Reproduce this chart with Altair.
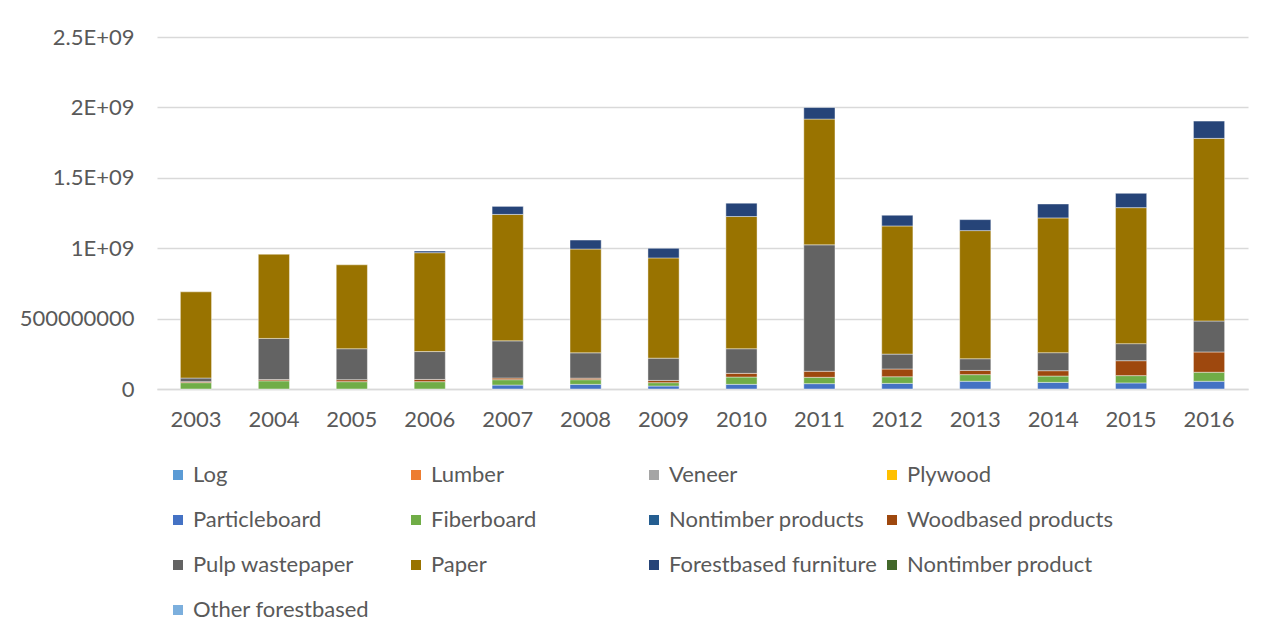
import altair as alt
import pandas as pd

years = ["2003", "2004", "2005", "2006", "2007", "2008", "2009",
         "2010", "2011", "2012", "2013", "2014", "2015", "2016"]

series = ["Log", "Lumber", "Veneer", "Plywood", "Particleboard", "Fiberboard",
          "Nontimber products", "Woodbased products", "Pulp wastepaper", "Paper",
          "Forestbased furniture", "Nontimber product", "Other forestbased"]

colors = ["#5B9BD5", "#ED7D31", "#A5A5A5", "#FFC000", "#4472C4", "#70AD47",
          "#255E91", "#9E480E", "#636363", "#997300", "#264478", "#43682B",
          "#7CAFDD"]

# values in millions
log_v = [0] * 14
lumber_v = [0] * 14
veneer_v = [0] * 14
plywood_v = [0] * 14
particleboard_v = [0, 0, 0, 0, 28, 33, 21, 33, 38, 40, 55, 47, 43, 55]
fiberboard_v = [45, 58, 52, 52, 38, 33, 24, 52, 45, 47, 47, 45, 52, 64]
nontimber_products_v = [0] * 14
woodbased_v = [7, 9, 14, 16, 12, 11, 16, 26, 43, 55, 30, 38, 106, 144]
pulp_v = [26, 292, 220, 198, 264, 180, 158, 175, 898, 106, 83, 128, 121, 220]
paper_v = [612, 598, 596, 702, 898, 737, 712, 939, 893, 910, 910, 957, 966, 1297]
furniture_v = [0, 0, 0, 12, 57, 64, 68, 95, 82, 76, 78, 99, 102, 123]
nontimber_product_v = [0] * 14
other_v = [0] * 14

all_values = [log_v, lumber_v, veneer_v, plywood_v, particleboard_v, fiberboard_v,
              nontimber_products_v, woodbased_v, pulp_v, paper_v, furniture_v,
              nontimber_product_v, other_v]

rows = []
for si, (name, vals) in enumerate(zip(series, all_values)):
    for y, v in zip(years, vals):
        rows.append({"year": y, "series": name, "order": si, "value": v * 1e6})
df = pd.DataFrame(rows)

FONT = "Lato"
TXT = "#595959"
GRID = "#D9D9D9"
FS = 22

bars = alt.Chart(df).transform_filter("datum.value > 0").mark_bar(
    stroke="white", strokeWidth=0.6, strokeOpacity=0.7
).encode(
    x=alt.X("year:N", sort=years,
            scale=alt.Scale(paddingInner=0.6, paddingOuter=0.3),
            axis=alt.Axis(title=None, labelAngle=0, ticks=False, domain=True,
                          domainColor=GRID, domainWidth=1.5, labelFontSize=FS,
                          labelColor=TXT, labelFont=FONT, labelPadding=20,
                          grid=False)),
    y=alt.Y("value:Q", stack="zero",
            scale=alt.Scale(domain=[0, 2.5e9], nice=False),
            axis=alt.Axis(title=None, values=[0, 5e8, 1e9, 1.5e9, 2e9, 2.5e9],
                          labelExpr="datum.value == 0 ? '0' : (datum.value < 1e9 ? '500000000' : toString(datum.value / 1e9) + 'E+09')",
                          ticks=False, domain=False, gridColor=GRID, gridWidth=1.5,
                          labelFontSize=FS, labelColor=TXT, labelFont=FONT,
                          labelPadding=23)),
    color=alt.Color("series:N",
                    scale=alt.Scale(domain=series, range=colors),
                    legend=alt.Legend(title=None, orient="none", legendX=10,
                                      legendY=427, columns=4, gridAlign="all",
                                      direction="horizontal",
                                      columnPadding=4, rowPadding=23,
                                      symbolType="square", symbolSize=100,
                                      symbolStrokeWidth=0, labelFontSize=FS,
                                      labelFont=FONT, labelColor=TXT,
                                      labelOffset=4, labelLimit=400, padding=0)),
    order=alt.Order("order:Q", sort="ascending"),
)

frame = alt.Chart(pd.DataFrame({"k": [0]})).mark_rect(
    fill="transparent", stroke=GRID, strokeWidth=1.5, clip=False
).encode(
    x=alt.value(-150), x2=alt.value(1115), y=alt.value(-30), y2=alt.value(640)
)

chart = alt.layer(frame, bars).properties(
    width=1091, height=352,
    autosize=alt.AutoSizeParams(type="none"),
    padding={"left": 149, "top": 29, "right": 23, "bottom": 242},
).configure_view(stroke=None)

chart.save("out.html", embed_options={"renderer": "svg", "actions": False})
